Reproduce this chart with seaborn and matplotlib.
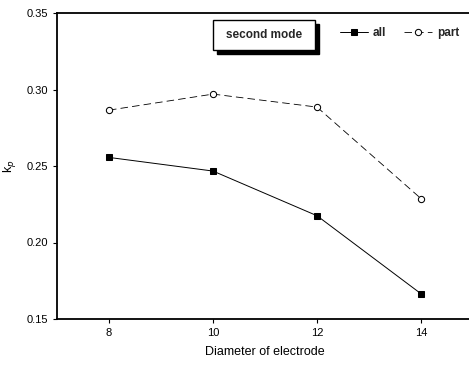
import matplotlib
matplotlib.use("Agg")
import matplotlib.pyplot as plt
import seaborn as sns
import pandas as pd
from matplotlib.patches import FancyBboxPatch

sns.set_theme(style="white")
plt.rcParams["font.family"] = ["Liberation Sans", "DejaVu Sans"]

diameter = [8, 10, 12, 14]
kp_all = [0.2556, 0.2467, 0.2175, 0.1665]
kp_part = [0.2865, 0.2970, 0.2885, 0.2287]
x_ticks = [8, 10, 12, 14]
y_ticks = [0.15, 0.20, 0.25, 0.30, 0.35]

df = pd.DataFrame({
    "Diameter of electrode": diameter * 2,
    "kp": kp_all + kp_part,
    "series": ["all"] * 4 + ["part"] * 4,
})

fig = plt.figure(figsize=(4.69, 3.65), dpi=100)
ax = fig.add_axes([57 / 469, 1 - 319 / 365, (473 - 57) / 469, (319 - 13) / 365])

sns.lineplot(data=df[df.series == "all"], x="Diameter of electrode", y="kp",
             ax=ax, color="black", lw=0.7, marker="s", markersize=4.5,
             markeredgecolor="black", markerfacecolor="black", label="all")
sns.lineplot(data=df[df.series == "part"], x="Diameter of electrode", y="kp",
             ax=ax, color="black", lw=0.6, marker="o", markersize=4.5,
             markeredgecolor="black", markerfacecolor="white",
             dashes=(9, 5), label="part")

ax.set_xlim(7, 15)
ax.set_ylim(0.15, 0.35)
ax.set_xticks(x_ticks)
ax.set_yticks(y_ticks)
ax.set_yticklabels([f"{v:.2f}" for v in y_ticks])
ax.tick_params(axis="both", direction="out", length=3, width=0.8,
               labelsize=8, colors="black", left=True, bottom=True)
for s in ["left", "bottom", "top"]:
    ax.spines[s].set_color("black")
    ax.spines[s].set_linewidth(1.3)
ax.spines["right"].set_visible(False)

ax.set_xlabel("Diameter of electrode", fontsize=9, color="black", labelpad=6)
ax.set_ylabel("k$_p$", fontsize=9, color="black", labelpad=6)

leg = ax.legend(loc="center left", bbox_to_anchor=(340 / 469, 1 - 33 / 365),
                bbox_transform=fig.transFigure, ncol=2,
                frameon=False, fontsize=8.5, handlelength=2.4,
                columnspacing=1.5, handletextpad=0.4, borderaxespad=0,
                borderpad=0)
for t in leg.get_texts():
    t.set_fontweight("bold")

# title box with drop shadow
shadow = FancyBboxPatch((217 / 469, 1 - 54 / 365), 102 / 469, 30 / 365,
                        boxstyle="square,pad=0", transform=fig.transFigure,
                        facecolor="black", edgecolor="black", zorder=5)
box = FancyBboxPatch((213 / 469, 1 - 50 / 365), 102 / 469, 30 / 365,
                     boxstyle="square,pad=0", transform=fig.transFigure,
                     facecolor="white", edgecolor="black", lw=1.0, zorder=6)
fig.patches.extend([shadow, box])
fig.text(264 / 469, 1 - 35 / 365, "second mode", ha="center", va="center",
         fontsize=8.5, fontweight="bold", zorder=7)

fig.savefig("out.png", dpi=100)
